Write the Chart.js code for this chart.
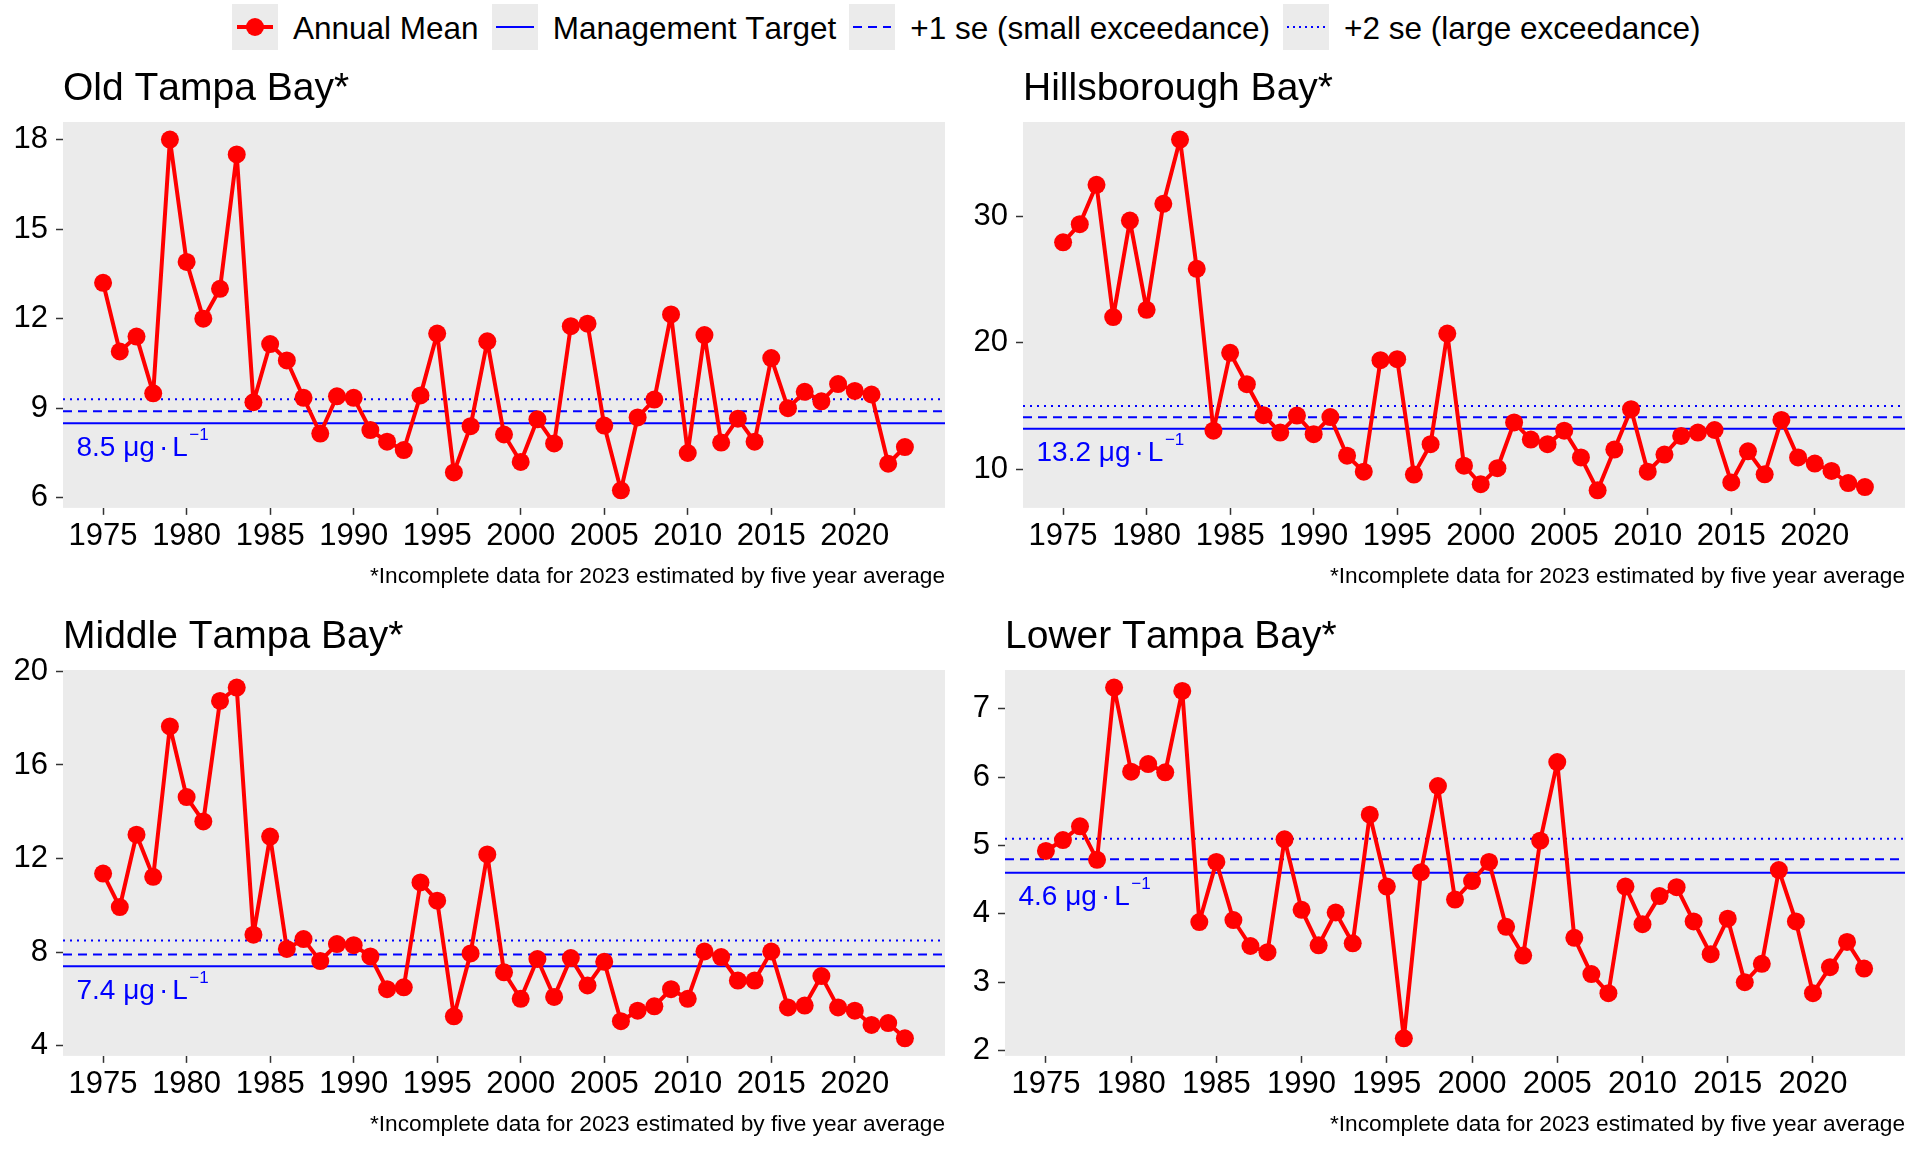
<!DOCTYPE html>
<html><head><meta charset="utf-8">
<script src="https://cdn.jsdelivr.net/npm/chart.js@4.4.1/dist/chart.umd.min.js"></script>
<style>
html,body{margin:0;padding:0;background:#fff;width:1920px;height:1152px;overflow:hidden;font-family:"Liberation Sans",Arial,sans-serif;font-kerning:none;}
canvas{position:absolute;}
#legend{position:absolute;left:232px;top:4px;display:flex;align-items:center;height:46px;font-size:31.5px;color:#000;font-kerning:none;}
.key{width:46px;height:46px;background:#ebebeb;position:relative;flex:none;}
.key .ln{position:absolute;left:4px;width:38px;top:22px;height:2px;}
.key .rl{position:absolute;left:5px;width:36px;top:21px;height:4px;background:#ff0000;}
.key .dot{position:absolute;left:14px;top:14px;width:18px;height:18px;border-radius:50%;background:#ff0000;}
.lbl{margin-left:15px;margin-right:13px;white-space:nowrap;position:relative;top:1px;}
</style></head>
<body>
<div id="legend">
  <div class="key"><div class="rl"></div><div class="dot"></div></div><span class="lbl" id="lg0"></span>
  <div class="key"><div class="ln" style="background:#0000ff"></div></div><span class="lbl" id="lg1"></span>
  <div class="key"><div class="ln" style="background:repeating-linear-gradient(to right,#0000ff 0 9px,transparent 9px 15px)"></div></div><span class="lbl" id="lg2"></span>
  <div class="key"><div class="ln" style="background:repeating-linear-gradient(to right,#0000ff 0 2px,transparent 2px 6px)"></div></div><span class="lbl" id="lg3"></span>
</div>
<canvas id="c0" width="960" height="554" style="left:0px;top:40px"></canvas>
<canvas id="c1" width="960" height="554" style="left:960px;top:40px"></canvas>
<canvas id="c2" width="960" height="554" style="left:0px;top:588px"></canvas>
<canvas id="c3" width="960" height="554" style="left:960px;top:588px"></canvas>
<script>
// ---------- data ----------
const years = [1975,1976,1977,1978,1979,1980,1981,1982,1983,1984,1985,1986,1987,1988,1989,1990,1991,1992,1993,1994,1995,1996,1997,1998,1999,2000,2001,2002,2003,2004,2005,2006,2007,2008,2009,2010,2011,2012,2013,2014,2015,2016,2017,2018,2019,2020,2021,2022,2023];
const oldTampaBay = [13.2,10.9,11.4,9.5,18.0,13.9,12.0,13.0,17.5,9.2, 11.15,10.6,9.35,8.15,9.4,9.35,8.27,7.88,7.6,9.43, 11.5,6.85,8.4,11.24,8.12,7.2,8.63,7.82,11.75,11.83, 8.42,6.25,8.69,9.29,12.14,7.5,11.45,7.85,8.65,7.88, 10.68,9.0,9.55,9.23,9.81,9.58,9.46,7.14,7.7];
const hillsboroughBay = [27.94,29.38,32.49,22.03,29.66,22.6,30.99,36.07,25.85,13.05, 19.2,16.72,14.27,12.9,14.24,12.77,14.12,11.07,9.8,18.62, 18.7,9.58,11.98,20.73,10.28,8.81,10.08,13.7,12.34,11.98, 13.05,10.93,8.33,11.55,14.75,9.8,11.16,12.63,12.9,13.1, 8.95,11.41,9.6,13.9,10.93,10.45,9.86,8.9,8.59];
const middleTampaBay = [11.36,9.93,13.02,11.22,17.65,14.63,13.59,18.74,19.31,8.75, 12.94,8.14,8.56,7.62,8.35,8.3,7.82,6.42,6.5,10.98, 10.2,5.26,7.95,12.18,7.14,6.01,7.71,6.09,7.75,6.58, 7.59,5.05,5.5,5.69,6.42,6.01,8.03,7.79,6.79,6.79, 8.03,5.64,5.72,6.98,5.64,5.5,4.89,4.97,4.32];
const lowerTampaBay = [4.92,5.08,5.28,4.79,7.31,6.08,6.19,6.07,7.26,3.88, 4.76,3.91,3.53,3.44,5.09,4.06,3.54,4.02,3.57,5.45, 4.4,2.18,4.61,5.87,4.21,4.48,4.76,3.81,3.39,5.07, 6.22,3.65,3.12,2.84,4.4,3.85,4.26,4.39,3.89,3.41, 3.93,3.0,3.27,4.64,3.89,2.84,3.22,3.59,3.2];

// target, +1 se, +2 se
const targetOTB = [8.5, 8.9, 9.3];
const targetHB  = [13.2, 14.1, 15.0];
const targetMTB = [7.4, 7.9, 8.5];
const targetLTB = [4.6, 4.8, 5.1];

const ticksOTB = [6, 9, 12, 15, 18];
const ticksHB  = [10, 20, 30];
const ticksMTB = [4, 8, 12, 16, 20];
const ticksLTB = [2, 3, 4, 5, 6, 7];
const xTicks = [1975, 1980, 1985, 1990, 1995, 2000, 2005, 2010, 2015, 2020];

const panelTitles = ['Old Tampa Bay*', 'Hillsborough Bay*', 'Middle Tampa Bay*', 'Lower Tampa Bay*'];
const caption = '*Incomplete data for 2023 estimated by five year average';
const legendLabels = ['Annual Mean', 'Management Target', '+1 se (small exceedance)', '+2 se (large exceedance)'];
const unitParts = ['μg', '·', 'L'];
const unitSup = '−1';

legendLabels.forEach((t, i) => { document.getElementById('lg' + i).textContent = t; });

// ---------- chart ----------
const FONT = "'Liberation Sans', Arial, sans-serif";
Chart.defaults.font.family = FONT;
Chart.defaults.color = '#000000';

const targetPlugin = {
  id: 'targets',
  beforeDraw(chart) {
    const {ctx, chartArea: a} = chart;
    ctx.fontKerning = 'none';
    ctx.save();
    ctx.fillStyle = '#ebebeb';
    ctx.fillRect(a.left, a.top, a.right - a.left, a.bottom - a.top);
    ctx.restore();
  },
  beforeDatasetsDraw(chart, args, opts) {
    const {ctx, chartArea: a} = chart;
    const y = chart.scales.y;
    const lv = opts.levels;
    const dashes = [[], [9, 6], [2, 5]];
    ctx.save();
    ctx.strokeStyle = '#0000ff';
    ctx.lineWidth = 2;
    lv.forEach((v, i) => {
      const py = y.getPixelForValue(v);
      ctx.setLineDash(dashes[i]);
      ctx.beginPath(); ctx.moveTo(a.left, py); ctx.lineTo(a.right, py); ctx.stroke();
    });
    ctx.setLineDash([]);
    const py = y.getPixelForValue(lv[0]);
    ctx.fillStyle = '#0000ff';
    ctx.textAlign = 'left';
    ctx.textBaseline = 'alphabetic';
    ctx.font = '28px ' + FONT;
    let x = a.left + 13.5;
    const yb = py + 32.5;
    const first = lv[0].toFixed(1) + ' ' + unitParts[0];
    ctx.fillText(first, x, yb);
    x += ctx.measureText(first).width + 4;
    ctx.fillText(unitParts[1], x, yb);
    x += ctx.measureText(unitParts[1]).width + 4;
    ctx.fillText(unitParts[2], x, yb);
    x += ctx.measureText(unitParts[2]).width + 1.5;
    ctx.font = '17px ' + FONT;
    ctx.fillText(unitSup, x, yb - 16);
    ctx.restore();
  }
};

function makePanel(id, values, levels, yTicks, title, yAxisWidth) {
  const lo = Math.min(...values), hi = Math.max(...values);
  const pad = (hi - lo) * 0.05;
  const x0 = years[0], x1 = years[years.length - 1];
  const xpad = (x1 - x0) * 0.05;
  new Chart(document.getElementById(id), {
    type: 'line',
    data: {
      datasets: [{
        data: years.map((yr, i) => ({x: yr, y: values[i]})),
        borderColor: '#ff0000',
        backgroundColor: '#ff0000',
        pointBackgroundColor: '#ff0000',
        borderWidth: 4,
        borderJoinStyle: 'round',
        borderCapStyle: 'round',
        pointRadius: 9,
        pointBorderWidth: 0,
        tension: 0
      }]
    },
    options: {
      responsive: false,
      animation: false,
      events: [],
      layout: {autoPadding: false, padding: {left: 0, right: 15, top: 0, bottom: 3.3}},
      plugins: {
        legend: {display: false},
        tooltip: {enabled: false},
        title: {display: true, text: title, align: 'start', fullSize: false, color: '#000',
                font: {size: 39, weight: 'normal', lineHeight: 1.2}, padding: {top: 25.5, bottom: 9.7}},
        subtitle: {display: true, text: caption, position: 'bottom', align: 'end', fullSize: false, color: '#000',
                font: {size: 22.7, weight: 'normal', lineHeight: 1.2}, padding: {top: 10.6, bottom: 0}},
        targets: {levels: levels}
      },
      scales: {
        x: {
          type: 'linear', min: x0 - xpad, max: x1 + xpad,
          afterBuildTicks: s => { s.ticks = xTicks.map(v => ({value: v})); },
          afterFit: s => { s.height = 45; },
          grid: {display: true, drawOnChartArea: false, drawTicks: true, tickLength: 7, tickWidth: 1.5, tickColor: '#333333'},
          border: {display: false},
          ticks: {color: '#000', font: {size: 31}, padding: 2.5, maxRotation: 0, autoSkip: false, callback: v => String(v)}
        },
        y: {
          type: 'linear', min: lo - pad, max: hi + pad,
          afterBuildTicks: s => { s.ticks = yTicks.map(v => ({value: v})); },
          afterFit: s => { s.width = yAxisWidth; },
          grid: {display: true, drawOnChartArea: false, drawTicks: true, tickLength: 7, tickWidth: 1.5, tickColor: '#333333'},
          border: {display: false},
          ticks: {color: '#000', font: {size: 31}, padding: 8, autoSkip: false, callback: v => String(v)}
        }
      }
    },
    plugins: [targetPlugin]
  });
}

makePanel('c0', oldTampaBay, targetOTB, ticksOTB, panelTitles[0], 63);
makePanel('c1', hillsboroughBay, targetHB, ticksHB, panelTitles[1], 63);
makePanel('c2', middleTampaBay, targetMTB, ticksMTB, panelTitles[2], 63);
makePanel('c3', lowerTampaBay, targetLTB, ticksLTB, panelTitles[3], 45);
</script>
</body></html>
